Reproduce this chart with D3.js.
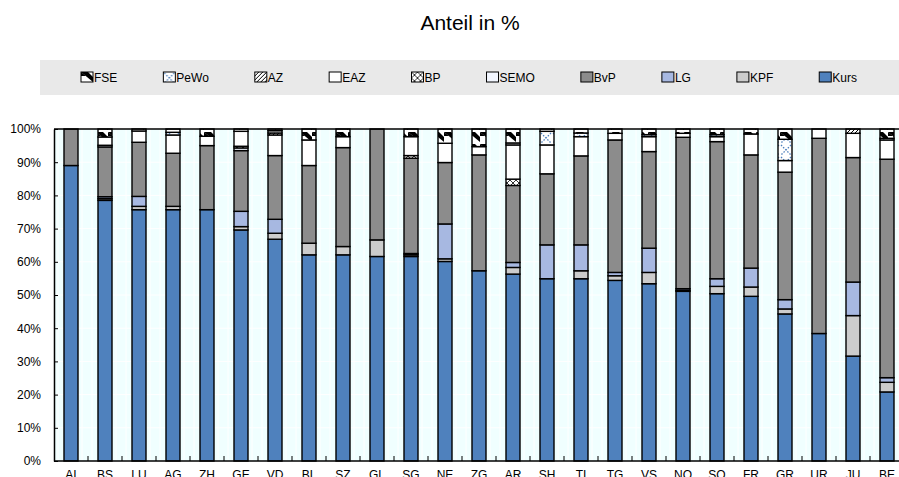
<!DOCTYPE html>
<html>
<head>
<meta charset="utf-8">
<script src="https://cdn.jsdelivr.net/npm/d3@7"></script>
<style>
  html, body { margin: 0; padding: 0; background: #fff; }
  svg { display: block; font-family: "Liberation Sans", Arial, sans-serif; }
</style>
</head>
<body>
<svg id="chart" width="899" height="477"></svg>
<script>
// data (percent of total)
var cantons = ["AI","BS","LU","AG","ZH","GE","VD","BL","SZ","GL","SG","NE","ZG","AR","SH","TI","TG","VS","NO","SO","FR","GR","UR","JU","BE"];
var kurs = [89.0,78.5,75.7,75.7,75.7,69.6,66.8,62.1,62.1,61.6,61.6,60.1,57.3,56.3,54.9,54.9,54.4,53.4,51.1,50.4,49.6,44.3,38.4,31.6,20.8];
var kpf  = [0,0.5,1.0,1.0,0,1.0,1.8,3.5,2.5,5.0,0.5,0.8,0,2.0,0,2.4,1.4,3.4,0.3,2.2,2.8,1.5,0,12.2,2.9];
var lg   = [0,0.6,3.0,0,0,4.6,4.2,0,0,0,0.4,10.5,0,1.5,10.2,7.8,1.0,7.3,0.5,2.3,5.7,2.8,0,10.1,1.4];
var bvp  = [11.0,15.0,16.3,16.0,19.3,18.3,19.2,23.4,29.8,33.4,28.7,18.5,34.9,23.2,21.4,26.8,39.9,29.1,45.6,41.3,34.1,38.4,58.8,37.5,65.8];
var semo = [0,0.5,0,0,0,0.8,0,0,0,0,0,0,0,0,0,0,0,0,0,0,0,0,0,0,0];
var bp   = [0,0,0,0,0,0.5,0,0,0,0,0.8,0,0,1.9,0,0,0,0,0,0,0,0,0,0,0];
var eaz  = [0,2.5,3.4,5.5,2.8,4.5,6.2,7.7,3.3,0,5.7,5.8,2.5,10.3,8.7,5.8,2.0,4.5,1.2,1.5,6.3,3.5,2.8,7.3,5.8];
var az   = [0,0,0,0,0,0,0.6,0,0,0,0,0,0,0,0,0,0,0,0,0,0,0,0,1.3,0];
var pewo = [0,0,0,0.8,0,0,0.7,0,0,0,0,0,0,0.6,4.1,1.1,0,0.6,0,0.6,0,6.4,0,0,0.5];
var fse  = [0,2.4,0.6,1.0,2.2,0.7,0.5,3.3,2.3,0,2.3,4.3,5.3,4.2,0.7,1.2,1.3,1.7,1.3,1.7,1.5,3.1,0,0,2.8];

// stacking order bottom -> top
var seriesNames = ["Kurs","KPF","LG","BvP","SEMO","BP","EAZ","AZ","PeWo","FSE"];
var seriesVals  = [kurs, kpf, lg, bvp, semo, bp, eaz, az, pewo, fse];
var legendOrder = ["FSE","PeWo","AZ","EAZ","BP","SEMO","BvP","LG","KPF","Kurs"];
var yTicks = [0,10,20,30,40,50,60,70,80,90,100];

var rows = cantons.map(function(c, i) {
  var r = { canton: c };
  seriesNames.forEach(function(s, j) { r[s] = seriesVals[j][i]; });
  return r;
});

var svg = d3.select("#chart");
var plotLeft = 54, plotTop = 129, plotBottom = 461, step = 34, plotRight = 899;

var fills = {
  Kurs: "#4f81bd", KPF: "#cccccc", LG: "#a7b8e1", BvP: "#8c8c8c",
  SEMO: "#f2f6ff", BP: "url(#pat-bp)", EAZ: "#ffffff", AZ: "url(#pat-az)",
  PeWo: "url(#pat-pewo)", FSE: "url(#pat-fse)"
};

// patterns
var defs = svg.append("defs");
var pf = defs.append("pattern").attr("id", "pat-fse").attr("patternUnits", "userSpaceOnUse")
  .attr("width", 12).attr("height", 12);
pf.append("rect").attr("width", 12).attr("height", 12).attr("fill", "#fff");
pf.append("path").attr("d", "M0,0 L7,0 L12,5 L12,10 Z").attr("fill", "#000");
pf.append("path").attr("d", "M0,0 L0,4 L5,4 Z").attr("fill", "#000");

var pp = defs.append("pattern").attr("id", "pat-pewo").attr("patternUnits", "userSpaceOnUse")
  .attr("width", 12).attr("height", 12);
pp.append("rect").attr("width", 12).attr("height", 12).attr("fill", "#fff");
pp.append("path").attr("d", "M1,1 L11,11 M11,1 L1,11").attr("stroke", "#4f81bd")
  .attr("stroke-width", 1.3).attr("stroke-dasharray", "1.5,1.5").attr("fill", "none");

var pa = defs.append("pattern").attr("id", "pat-az").attr("patternUnits", "userSpaceOnUse")
  .attr("width", 4).attr("height", 4);
pa.append("rect").attr("width", 4).attr("height", 4).attr("fill", "#fff");
pa.append("path").attr("d", "M0,4 L4,0 M-1,1 L1,-1 M3,5 L5,3").attr("stroke", "#000").attr("stroke-width", 1);

var pb = defs.append("pattern").attr("id", "pat-bp").attr("patternUnits", "userSpaceOnUse")
  .attr("width", 6).attr("height", 6);
pb.append("rect").attr("width", 6).attr("height", 6).attr("fill", "#fff");
pb.append("path").attr("d", "M0,0 L6,6 M6,0 L0,6").attr("stroke", "#000").attr("stroke-width", 0.8);

// title
svg.append("text").attr("x", 470).attr("y", 30).attr("text-anchor", "middle")
  .attr("font-size", 21).attr("fill", "#000").text("Anteil in %");

// legend band
svg.append("rect").attr("x", 40).attr("y", 60).attr("width", 859).attr("height", 35).attr("fill", "#e9e9e9");
var lx = 81;
legendOrder.forEach(function(name) {
  var g = svg.append("g").attr("transform", "translate(" + lx + ",72)");
  g.append("rect").attr("width", 12).attr("height", 10).attr("fill", fills[name])
    .attr("stroke", "#000").attr("stroke-width", 1);
  var t = g.append("text").attr("x", 13).attr("y", 10).attr("font-size", 12).text(name);
  lx += 13 + t.node().getComputedTextLength() + 46;
});

// scales
var x = d3.scaleBand().domain(cantons).range([plotLeft, plotLeft + step * cantons.length]).padding(0);
var y = d3.scaleLinear().domain([0, 100]).range([plotBottom, plotTop]);
var barW = 14;

// plot background + faint grid
svg.append("rect").attr("x", plotLeft).attr("y", plotTop).attr("width", plotRight - plotLeft)
  .attr("height", plotBottom - plotTop).attr("fill", "#f0ffff");
svg.append("g").selectAll("line").data(yTicks.slice(1, -1)).enter().append("line")
  .attr("x1", plotLeft).attr("x2", plotRight).attr("y1", function(d) { return y(d); }).attr("y2", function(d) { return y(d); })
  .attr("stroke", "#fff").attr("stroke-width", 1);
svg.append("g").selectAll("line").data(cantons).enter().append("line")
  .attr("x1", function(d) { return x(d) + 4; }).attr("x2", function(d) { return x(d) + 4; })
  .attr("y1", plotTop).attr("y2", plotBottom).attr("stroke", "#fff").attr("stroke-width", 1);
svg.append("g").selectAll("line").data(cantons).enter().append("line")
  .attr("x1", function(d) { return x(d) + 28; }).attr("x2", function(d) { return x(d) + 28; })
  .attr("y1", plotTop).attr("y2", plotBottom).attr("stroke", "#fff").attr("stroke-width", 1);

// stacked bars
var layers = d3.stack().keys(seriesNames)(rows);
svg.append("g").selectAll("g").data(layers).enter().append("g")
  .attr("fill", function(d) { return fills[d.key]; })
  .selectAll("rect")
  .data(function(d) { return d.filter(function(s) { return s[1] - s[0] > 0; }); })
  .enter().append("rect")
  .attr("x", function(d) { return x(d.data.canton) + (x.bandwidth() - barW) / 2; })
  .attr("width", barW)
  .attr("y", function(d) { return y(d[1]); })
  .attr("height", function(d) { return y(d[0]) - y(d[1]); })
  .attr("stroke", "#000").attr("stroke-width", 1.4);

// frame top line
svg.append("line").attr("x1", plotLeft).attr("x2", plotRight).attr("y1", plotTop).attr("y2", plotTop)
  .attr("stroke", "#000").attr("stroke-width", 1.5);

// y axis
var yAxis = svg.append("g").attr("transform", "translate(" + plotLeft + ",0)")
  .call(d3.axisLeft(y).tickValues(yTicks).tickSizeInner(-4).tickSizeOuter(0)
    .tickFormat(function(d) { return d + "%"; }).tickPadding(13));
yAxis.select(".domain").attr("stroke", "#000").attr("stroke-width", 1.5);
yAxis.selectAll("text").attr("font-size", 12).attr("fill", "#000")
  .attr("font-family", "Liberation Sans, Arial, sans-serif");

// x axis
var xTicks = cantons.map(function(c) { return x(c) + step; });
var xAxisG = svg.append("g");
xAxisG.append("line").attr("x1", plotLeft).attr("x2", plotRight).attr("y1", plotBottom).attr("y2", plotBottom)
  .attr("stroke", "#000").attr("stroke-width", 1.5);
xAxisG.selectAll("line.tk").data(xTicks).enter().append("line").attr("class", "tk")
  .attr("x1", function(d) { return d; }).attr("x2", function(d) { return d; })
  .attr("y1", plotBottom).attr("y2", plotBottom - 5).attr("stroke", "#000").attr("stroke-width", 1);
xAxisG.selectAll("text").data(cantons).enter().append("text")
  .attr("x", function(d) { return x(d) + x.bandwidth() / 2; })
  .attr("y", 479).attr("text-anchor", "middle").attr("font-size", 12).text(function(d) { return d; });
</script>
</body>
</html>
